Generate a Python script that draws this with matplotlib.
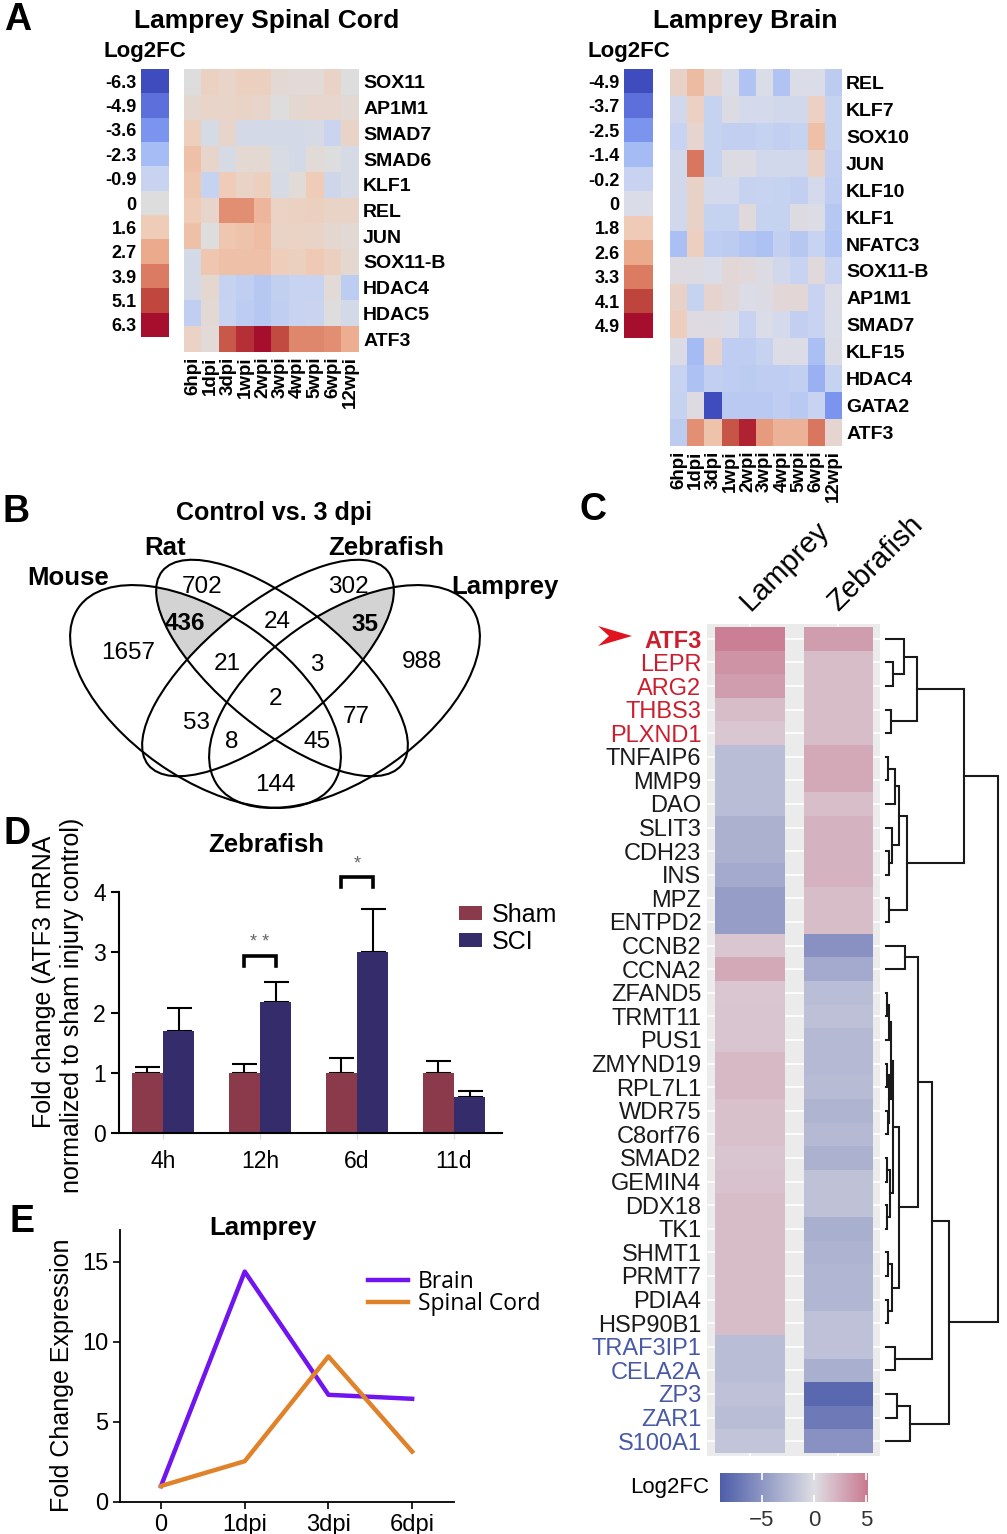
import numpy as np
import matplotlib
matplotlib.use("Agg")
import matplotlib.pyplot as plt
from matplotlib.colors import LinearSegmentedColormap, Normalize, TwoSlopeNorm
from matplotlib.patches import Ellipse, Polygon

plt.rcParams['font.family'] = ['Liberation Sans', 'DejaVu Sans']
W, H = 1007, 1534
fig = plt.figure(figsize=(W / 100, H / 100), dpi=100)

# ======================= DATA =======================
# ---- Panel A: Lamprey spinal cord ----
sc_times = ['6hpi', '1dpi', '3dpi', '1wpi', '2wpi', '3wpi', '4wpi', '5wpi', '6wpi', '12wpi']
sc_genes = ['SOX11', 'AP1M1', 'SMAD7', 'SMAD6', 'KLF1', 'REL', 'JUN', 'SOX11-B', 'HDAC4', 'HDAC5', 'ATF3']
sc_log2fc = [
    [0.0, 1.2, 0.9, 1.3, 1.3, 0.5, 0.3, 0.3, 1.0, 0.0],
    [0.6, 0.9, 0.9, 1.0, 0.8, 0.0, 0.6, 0.7, 0.7, 0.4],
    [1.4, -0.3, 0.8, -0.4, -0.4, -0.4, -0.4, -0.3, -0.8, 1.0],
    [2.0, 0.8, -0.3, 0.5, 0.5, -0.2, -0.4, 0.3, 0.0, -0.3],
    [1.8, -1.0, 1.6, 1.0, 1.4, -0.3, 0.3, 1.6, -0.6, -0.3],
    [1.6, 0.8, 3.4, 3.4, 2.3, 1.1, 1.2, 1.3, 1.0, 1.0],
    [2.0, 0.0, 1.8, 1.9, 2.1, 1.0, 1.1, 1.0, 0.6, 0.4],
    [-0.4, 1.8, 2.0, 2.0, 2.0, 1.5, 1.3, 1.7, 1.3, 0.6],
    [-0.4, 0.6, -1.0, -1.2, -1.6, -1.1, -0.9, -0.9, 0.3, -1.3],
    [-1.2, 0.4, -0.9, -1.3, -1.6, -1.2, -0.9, -0.8, 0.0, -0.4],
    [1.1, 0.3, 4.7, 5.6, 6.3, 5.0, 3.6, 3.6, 3.4, 2.6],
]
sc_legend_levels = [-6.3, -4.9, -3.6, -2.3, -0.9, 0, 1.6, 2.7, 3.9, 5.1, 6.3]
sc_legend_colors = ['#3e4cbe', '#5e70dc', '#7c96f0', '#a5bcf5', '#c8d4f0', '#dedede',
                    '#f0cdb9', '#ecaa8c', '#dc7d64', '#c0483e', '#a50f2d']

# ---- Panel A: Lamprey brain ----
br_times = ['6hpi', '1dpi', '3dpi', '1wpi', '2wpi', '3wpi', '4wpi', '5wpi', '6wpi', '12wpi']
br_genes = ['REL', 'KLF7', 'SOX10', 'JUN', 'KLF10', 'KLF1', 'NFATC3', 'SOX11-B', 'AP1M1',
            'SMAD7', 'KLF15', 'HDAC4', 'GATA2', 'ATF3']
br_log2fc = [
    [1.2, 2.2, 0.9, 0.0, -1.0, 0.0, -1.0, 0.0, 0.0, -0.6],
    [-0.1, 1.4, -0.3, 0.2, -0.05, -0.05, -0.1, -0.1, 1.4, -0.3],
    [-0.2, 0.9, -0.3, -0.4, -0.4, -0.3, -0.4, -0.3, 2.1, -0.3],
    [-0.1, 3.4, -0.3, 0.2, 0.2, -0.1, -0.1, -0.1, 1.3, -0.4],
    [-0.1, 1.2, -0.05, -0.05, -0.3, -0.2, -0.3, -0.4, -0.05, -0.5],
    [-0.1, 1.2, -0.3, -0.3, 0.5, -0.3, -0.3, 0.3, 0.1, -0.8],
    [-1.2, 1.5, -0.5, -0.6, -0.9, -1.1, -0.4, -0.8, -0.2, -0.9],
    [0.3, 0.3, 0.05, 0.7, 0.5, 0.2, -0.1, -0.2, 0.5, -0.2],
    [1.2, -0.3, 1.0, 0.6, 0.1, 0.2, 0.7, 0.7, -0.2, 0.1],
    [1.6, 0.3, 0.3, 0.1, -0.2, 0.05, -0.05, -0.4, -0.2, 0.0],
    [0.15, -1.4, 1.1, -0.5, -0.5, -0.3, 0.1, 0.1, -1.2, 0.15],
    [-0.2, -1.1, -0.4, -0.5, -0.6, -0.5, -0.5, -0.4, -1.7, -0.3],
    [-0.3, 0.3, -4.9, -0.7, -0.7, -0.7, -0.5, -0.7, -0.2, -2.5],
    [-0.6, 3.0, 2.0, 3.9, 4.6, 2.8, 2.4, 2.4, 3.4, 0.9],
]
br_legend_levels = [-4.9, -3.7, -2.5, -1.4, -0.2, 0, 1.8, 2.6, 3.3, 4.1, 4.9]
br_legend_colors = ['#3e4cbe', '#5e70dc', '#7c96f0', '#a5bcf5', '#c8d4f0', '#dadde9',
                    '#f0cdb9', '#ecaa8c', '#dc7d64', '#c0483e', '#a50f2d']

# ---- Panel B: Venn counts ----
venn_sets = ['Mouse', 'Rat', 'Zebrafish', 'Lamprey']
venn_counts = ['702', '302', '1657', '988', '436', '24', '35', '21', '3', '2', '53', '77', '8', '45', '144']
venn_bold = ['436', '35']

# ---- Panel C ----
c_species = ['Lamprey', 'Zebrafish']
c_genes = ['ATF3', 'LEPR', 'ARG2', 'THBS3', 'PLXND1', 'TNFAIP6', 'MMP9', 'DAO', 'SLIT3', 'CDH23',
           'INS', 'MPZ', 'ENTPD2', 'CCNB2', 'CCNA2', 'ZFAND5', 'TRMT11', 'PUS1', 'ZMYND19', 'RPL7L1',
           'WDR75', 'C8orf76', 'SMAD2', 'GEMIN4', 'DDX18', 'TK1', 'SHMT1', 'PRMT7', 'PDIA4', 'HSP90B1',
           'TRAF3IP1', 'CELA2A', 'ZP3', 'ZAR1', 'S100A1']
c_lamprey = [4.8, 3.8, 3.3, 1.7, 1.2, -2.3, -2.3, -2.3, -3.1, -3.1,
             -3.6, -4.5, -4.5, 1.2, 2.7, 1.2, 1.3, 1.3, 1.9, 1.9,
             1.5, 1.5, 1.3, 1.4, 1.7, 1.7, 1.7, 1.7, 1.7, 1.7,
             -2.3, -2.3, -2.0, -2.3, -1.7]
c_zebrafish = [3.3, 1.7, 1.7, 1.7, 1.7, 2.7, 2.7, 1.6, 2.2, 2.2,
               2.2, 1.7, 1.7, -5.4, -3.6, -2.3, -2.1, -2.6, -2.6, -2.4,
               -2.9, -2.6, -3.1, -1.9, -1.9, -3.25, -3.0, -2.8, -2.8, -2.0,
               -2.0, -3.25, -8.2, -7.0, -5.4]
c_up_genes = ['ATF3', 'LEPR', 'ARG2', 'THBS3', 'PLXND1']
c_down_genes = ['TRAF3IP1', 'CELA2A', 'ZP3', 'ZAR1', 'S100A1']
c_range = [-9.0, 0.0, 5.1]
c_ticks = [-5, 0, 5]
# dendrogram nodes: (left, right, merge height); leaves are row indices
dn_top5 = ((0, (1, 2, 0.6), 1.6), (3, 4, 0.45), 2.8)
dn_g8a = (((5, 6, 0.2), 7, 0.8), (8, (9, 10, 0.25), 0.55), 1.15)
dn_g8 = (dn_g8a, (11, 12, 0.3), 1.9)
dn_upper = (dn_top5, dn_g8, 7.0)
dn_mid_a = (((15, 16, 0.1), 17, 0.25), ((18, 19, 0.1), (20, 21, 0.15), 0.3), 0.45)
dn_mid_top = (dn_mid_a, ((22, 23, 0.1), (24, 25, 0.12), 0.35), 0.6)
dn_mid_bot = ((26, 27, 0.2), (28, 29, 0.15), 0.55)
dn_mid = (dn_mid_top, dn_mid_bot, 1.15)
dn_cc = ((13, 14, 1.7), dn_mid, 2.85)
dn_cc2 = (dn_cc, (30, 31, 0.8), 4.1)
dn_z = ((32, 33, 1.0), 34, 2.15)
dn_lower = (dn_cc2, dn_z, 5.6)
c_dendrogram = (dn_upper, dn_lower, 10.0)

# ---- Panel D ----
d_times = ['4h', '12h', '6d', '11d']
d_sham = [1.0, 1.0, 1.0, 1.0]
d_sham_err = [0.09, 0.14, 0.24, 0.20]
d_sci = [1.70, 2.17, 3.01, 0.60]
d_sci_err = [0.37, 0.33, 0.70, 0.09]
d_sig_group = [1, 2]
d_sig_label = ['* *', '*']
d_sig_y = [2.94, 4.25]

# ---- Panel E ----
e_times = ['0', '1dpi', '3dpi', '6dpi']
e_brain = [1.0, 14.4, 6.7, 6.45]
e_spinal = [1.0, 2.55, 9.1, 3.15]


# ======================= HELPERS =======================
def add_ax(x0, y0, x1, y1, **kw):
    return fig.add_axes([x0 / W, 1 - y1 / H, (x1 - x0) / W, (y1 - y0) / H], **kw)


def ftext(x, y, s, **kw):
    kw.setdefault('ha', 'center')
    kw.setdefault('va', 'center')
    return fig.text(x / W, 1 - y / H, s, **kw)


def level_cmap(levels, colors):
    lo, hi = levels[0], levels[-1]
    cm = LinearSegmentedColormap.from_list(
        'lv', [((v - lo) / (hi - lo), c) for v, c in zip(levels, colors)])
    return cm, Normalize(lo, hi)


def fmt_level(v):
    return '0' if v == 0 else '%.1f' % v


def draw_heat(box, data, genes, times, cmap, norm):
    ax = add_ax(*box)
    ax.imshow(np.array(data), cmap=cmap, norm=norm, aspect='auto', interpolation='nearest')
    ax.set_yticks(range(len(genes)))
    ax.set_yticklabels(genes, fontsize=14, fontweight='bold')
    ax.yaxis.tick_right()
    ax.set_xticks(range(len(times)))
    ax.set_xticklabels(times, rotation=90, fontsize=13.5, fontweight='bold')
    ax.tick_params(length=0, pad=3)
    for s in ax.spines.values():
        s.set_visible(False)
    return ax


def draw_levels(box, levels, cmap, norm):
    ax = add_ax(*box)
    ax.imshow(np.array(levels)[:, None], cmap=cmap, norm=norm, aspect='auto',
              interpolation='nearest')
    ax.set_yticks(range(len(levels)))
    ax.set_yticklabels([fmt_level(v) for v in levels], fontsize=13, fontweight='bold')
    ax.set_xticks([])
    ax.tick_params(length=0, pad=3)
    for s in ax.spines.values():
        s.set_visible(False)
    return ax


# ======================= PANEL A =======================
cm_sc, nm_sc = level_cmap(sc_legend_levels, sc_legend_colors)
cm_br, nm_br = level_cmap(br_legend_levels, br_legend_colors)

draw_heat((184, 69, 359, 352), sc_log2fc, sc_genes, sc_times, cm_sc, nm_sc)
draw_levels((141, 69, 169, 337), sc_legend_levels, cm_sc, nm_sc)
draw_heat((670, 69, 842, 446), br_log2fc, br_genes, br_times, cm_br, nm_br)
draw_levels((624, 69, 653, 338), br_legend_levels, cm_br, nm_br)

ftext(18, 20, 'A', fontsize=27, fontweight='bold')
ftext(267, 21, 'Lamprey Spinal Cord', fontsize=19, fontweight='bold')
ftext(745, 21, 'Lamprey Brain', fontsize=19, fontweight='bold')
ftext(145, 52, 'Log2FC', fontsize=16, fontweight='bold')
ftext(629, 52, 'Log2FC', fontsize=16, fontweight='bold')

# ======================= PANEL B (Venn) =======================
# axes in pixel-like units (y downward), equal aspect
bx0, by0, bx1, by1 = 30, 540, 530, 830
axv = add_ax(bx0, by0, bx1, by1)
axv.set_xlim(bx0, bx1)
axv.set_ylim(by1, by0)
axv.axis('off')
# (centre x, centre y, semi-major, semi-minor, angle) for Mouse, Rat, Zebrafish, Lamprey
ell_geom = [(205.5, 696.5, 155, 82, 35), (282, 668, 154, 62, 39),
            (268, 668, 154, 62, 141), (344.5, 696.5, 155, 82, 145)]
gx, gy = np.meshgrid(np.linspace(bx0, bx1, 1000), np.linspace(by0, by1, 600))


def inside(cx, cy, A, B, ang):
    t = np.deg2rad(ang)
    dx, dy = gx - cx, gy - cy
    u = dx * np.cos(t) + dy * np.sin(t)
    v = -dx * np.sin(t) + dy * np.cos(t)
    return (u / A) ** 2 + (v / B) ** 2 <= 1


inM, inR, inZ, inL = [inside(*g) for g in ell_geom]
shade = (inM & inR & ~inZ & ~inL) | (inZ & inL & ~inM & ~inR)
axv.contourf(gx, gy, shade.astype(float), levels=[0.5, 1.5], colors=['#d3d3d3'])
for cx, cy, A, B, ang in ell_geom:
    axv.add_patch(Ellipse((cx, cy), 2 * A, 2 * B, angle=ang, fill=False, ec='black',
                          lw=1.5, clip_on=False))

venn_pos = [(202, 587), (348, 587), (128, 653), (422, 662), (185, 623), (277, 622), (365, 625),
            (227, 664), (317, 665), (275, 699), (196, 723), (356, 717), (232, 742), (317, 742),
            (275, 785)]
for (px, py), s in zip(venn_pos, venn_counts):
    ftext(px, py, s, fontsize=17.5, fontweight='bold' if s in venn_bold else 'normal')
set_pos = [(68, 578), (165, 548), (386, 548), (505, 587)]
for (px, py), s in zip(set_pos, venn_sets):
    ftext(px, py, s, fontsize=18.5, fontweight='bold')
ftext(16, 512, 'B', fontsize=27, fontweight='bold')
ftext(274, 513, 'Control vs. 3 dpi', fontsize=18, fontweight='bold')

# ======================= PANEL C =======================
c_cmap = LinearSegmentedColormap.from_list('c', ['#4e5eaa', '#dedee4', '#c97a90'])
c_norm = TwoSlopeNorm(vmin=c_range[0], vcenter=c_range[1], vmax=c_range[2])
n = len(c_genes)
rows = np.arange(n)
c_top, c_bot = 624, 1456
ylim_c = (n - 1 + 0.5 + 3 / 23.6, -0.5 - 3 / 23.6)

axc = add_ax(707, c_top, 880, c_bot)
axc.set_facecolor('#ebebeb')
for j, vals in enumerate([c_lamprey, c_zebrafish]):
    axc.barh(rows, 0.79, left=j + 1 - 0.395, height=1.0,
             color=c_cmap(c_norm(np.array(vals))), linewidth=0, zorder=2)
axc.set_xlim(0.514, 2.469)
axc.set_ylim(*ylim_c)
axc.set_yticks(rows)
axc.set_yticklabels(c_genes, fontsize=17)
axc.set_xticks([1, 2])
axc.set_xticklabels([])
axc.grid(True, color='white', lw=1.2, zorder=0)
axc.set_axisbelow(True)
axc.tick_params(length=0, pad=4)
for s in axc.spines.values():
    s.set_visible(False)
for lab in axc.get_yticklabels():
    g = lab.get_text()
    if g in c_up_genes:
        lab.set_color('#cc1f2e')
    elif g in c_down_genes:
        lab.set_color('#4859a8')
    else:
        lab.set_color('#1a1a1a')
    if g == 'ATF3':
        lab.set_fontweight('bold')
for j, sp in enumerate(c_species):
    axc.text(j + 1 + 0.0, -1.15, sp, rotation=45, rotation_mode='anchor', ha='left',
             va='baseline', fontsize=21, clip_on=False)

# dendrogram
axd = add_ax(886, c_top, 999, c_bot)
axd.set_ylim(*ylim_c)
axd.set_xlim(0, 10.1)
axd.axis('off')


def draw_dendro(node):
    if isinstance(node, int):
        return float(node), 0.0
    left, right, h = node
    yl, hl = draw_dendro(left)
    yr, hr = draw_dendro(right)
    axd.plot([hl, h, h, hr], [yl, yl, yr, yr], color='#1a1a1a', lw=1.5, clip_on=False,
             solid_joinstyle='miter')
    return (yl + yr) / 2, h


draw_dendro(c_dendrogram)

# colorbar C
axcb = add_ax(720, 1473, 867, 1502)
grad = np.linspace(c_range[0], c_range[2], 300)
axcb.imshow(grad[None, :], cmap=c_cmap, norm=c_norm, aspect='auto',
            extent=(c_range[0], c_range[2], 0, 1))
axcb.set_xticks(c_ticks)
axcb.set_xticklabels(['\u22125', '0', '5'], fontsize=16, color='#333333')
axcb.set_yticks([])
axcb.tick_params(axis='x', direction='in', color='white', length=5, width=1.2, pad=6,
                 top=True)
for s in axcb.spines.values():
    s.set_visible(False)
ftext(670, 1487, 'Log2FC', fontsize=16)
ftext(593, 510, 'C', fontsize=27, fontweight='bold')

# red arrow
axo = fig.add_axes([0, 0, 1, 1], facecolor='none')
axo.set_xlim(0, W)
axo.set_ylim(H, 0)
axo.axis('off')
axo.add_patch(Polygon([(632, 636), (598, 626), (609, 636), (598, 646)], closed=True,
                      color='#e0141e', lw=0))

# ======================= PANEL D =======================
axD = add_ax(119, 892, 502, 1133)
xd = np.arange(len(d_times))
bw = 0.324
axD.errorbar(xd - bw / 2, d_sham, yerr=[np.zeros(4), d_sham_err], fmt='none', ecolor='black',
             elinewidth=1.5, capsize=9, capthick=1.5, zorder=1)
axD.errorbar(xd + bw / 2, d_sci, yerr=[np.zeros(4), d_sci_err], fmt='none', ecolor='black',
             elinewidth=1.5, capsize=9, capthick=1.5, zorder=1)
axD.bar(xd - bw / 2, d_sham, bw, color='#8a3a4a', label='Sham', zorder=2)
axD.bar(xd + bw / 2, d_sci, bw, color='#352c6b', label='SCI', zorder=2)
for gi, lab, yv in zip(d_sig_group, d_sig_label, d_sig_y):
    axD.plot([gi - bw / 2, gi - bw / 2, gi + bw / 2, gi + bw / 2], [yv - 0.17, yv, yv, yv - 0.17],
             color='black', lw=2.6, solid_joinstyle='miter', clip_on=False)
    axD.text(gi, yv + 0.08, lab, ha='center', va='bottom', fontsize=13, color='#666666')
axD.set_xlim(-0.454, 3.495)
axD.set_ylim(0, 4)
axD.set_yticks([0, 1, 2, 3, 4])
axD.set_xticks(xd)
axD.set_xticklabels(d_times)
axD.tick_params(axis='y', labelsize=16.5, length=6, width=1.5)
axD.tick_params(axis='x', labelsize=16.5, length=4, width=1, color='#dddddd', pad=8)
for s in ['top', 'right']:
    axD.spines[s].set_visible(False)
for s in ['left', 'bottom']:
    axD.spines[s].set_linewidth(1.5)
axD.legend(loc='upper left', bbox_to_anchor=(459 / W, 1 - 903 / H), bbox_transform=fig.transFigure,
           frameon=False, fontsize=18, handlelength=0.92, handleheight=0.5, handletextpad=0.4,
           labelspacing=0.12, borderpad=0, borderaxespad=0)
ftext(266, 845, 'Zebrafish', fontsize=18.5, fontweight='bold')
ftext(44, 982, 'Fold change (ATF3 mRNA', fontsize=18, rotation=90)
ftext(72, 1005, 'normalized to sham injury control)', fontsize=18, rotation=90)
ftext(17, 834, 'D', fontsize=27, fontweight='bold')

# ======================= PANEL E =======================
axE = add_ax(120, 1230, 454, 1502)
xe = np.arange(len(e_times))
axE.plot(xe, e_brain, color='#7014f0', lw=3.2, label='Brain')
axE.plot(xe, e_spinal, color='#e0822a', lw=3.2, label='Spinal Cord')
axE.set_xlim(-0.49, 3.5)
axE.set_ylim(0, 17)
axE.set_yticks([0, 5, 10, 15])
axE.set_xticks(xe)
axE.set_xticklabels(e_times)
axE.tick_params(labelsize=17, length=5, width=1.2)
for s in ['top', 'right']:
    axE.spines[s].set_visible(False)
for s in ['left', 'bottom']:
    axE.spines[s].set_linewidth(1.3)
axE.legend(loc='upper left', bbox_to_anchor=(368 / W, 1 - 1270 / H), bbox_transform=fig.transFigure,
           frameon=False, prop={'family': 'Open Sans', 'size': 16.5}, handlelength=1.75,
           handletextpad=0.42, labelspacing=-0.08, borderpad=0, borderaxespad=0)
ftext(263, 1228, 'Lamprey', fontsize=18.5, fontweight='bold')
ftext(62, 1375, 'Fold Change Expression', fontsize=18, rotation=90)
ftext(22, 1222, 'E', fontsize=27, fontweight='bold')

fig.savefig('out.png', dpi=100)
